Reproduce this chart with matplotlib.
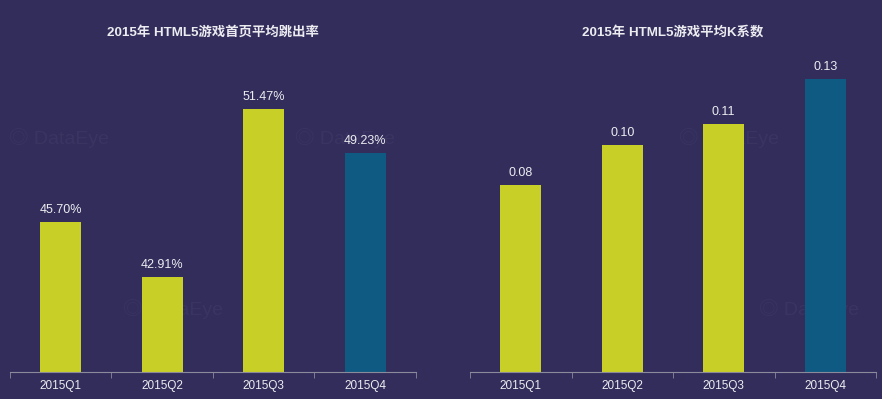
import numpy as np
import matplotlib
matplotlib.use("Agg")
import matplotlib.pyplot as plt

plt.rcParams['font.family'] = ['Liberation Sans', 'Noto Sans CJK SC', 'DejaVu Sans']

quarters = ['2015Q1', '2015Q2', '2015Q3', '2015Q4']
bounce = [45.70, 42.91, 51.47, 49.23]
kcoef = [0.083, 0.1005, 0.110, 0.13]
k_labels = ['0.08', '0.10', '0.11', '0.13']

bg = '#332d5c'
yellow = '#c8cf27'
blue = '#0e5a82'
txt = '#ececf0'
colors = [yellow, yellow, yellow, blue]

fig = plt.figure(figsize=(8.82, 3.99), dpi=100, facecolor=bg)

# faint watermark, kept behind the bars
for (wx, wy) in [(0.01, 0.64), (0.335, 0.64), (0.14, 0.21), (0.77, 0.64), (0.86, 0.21)]:
    fig.text(wx, wy, '\u25ce DataEye', color='white', alpha=0.035, fontsize=14, zorder=-1)

def panel(rect, vals, labels, title, ylim):
    ax = fig.add_axes(rect)
    ax.set_facecolor('none')
    x = np.arange(len(vals))
    ax.bar(x, vals, width=0.4, color=colors, zorder=2)
    for xi, v, lab in zip(x, vals, labels):
        ax.text(xi, v + (ylim[1] - ylim[0]) * 0.02, lab, ha='center', va='bottom',
                color=txt, fontsize=9)
    ax.set_xlim(-0.5, len(vals) - 0.5)
    ax.set_ylim(*ylim)
    for s in ['top', 'right', 'left']:
        ax.spines[s].set_visible(False)
    ax.spines['bottom'].set_color('#8a8a9a')
    ax.set_yticks([])
    ax.set_xticks(x)
    ax.set_xticklabels(quarters, color=txt, fontsize=8.5)
    ax.set_xticks(np.arange(len(vals) + 1) - 0.5, minor=True)
    ax.tick_params(axis='x', which='major', length=0, pad=6)
    ax.tick_params(axis='x', which='minor', length=4, color='#8a8a9a')
    fig.text(rect[0] + rect[2] / 2, 1 - 32 / 399, title, ha='center', va='center',
             color=txt, fontsize=9.6, fontweight='bold')
    return ax

bottom = 1 - 372 / 399
height = (372 - 60) / 399
panel([10 / 882, bottom, 406 / 882, height], bounce, ['%.2f%%' % v for v in bounce],
      '2015年 HTML5游戏首页平均跳出率', (38.06, 53.98))
panel([470 / 882, bottom, 406 / 882, height], kcoef, k_labels,
      '2015年 HTML5游戏平均K系数', (0, 0.1384))

fig.savefig('out.png', dpi=100, facecolor=bg)
